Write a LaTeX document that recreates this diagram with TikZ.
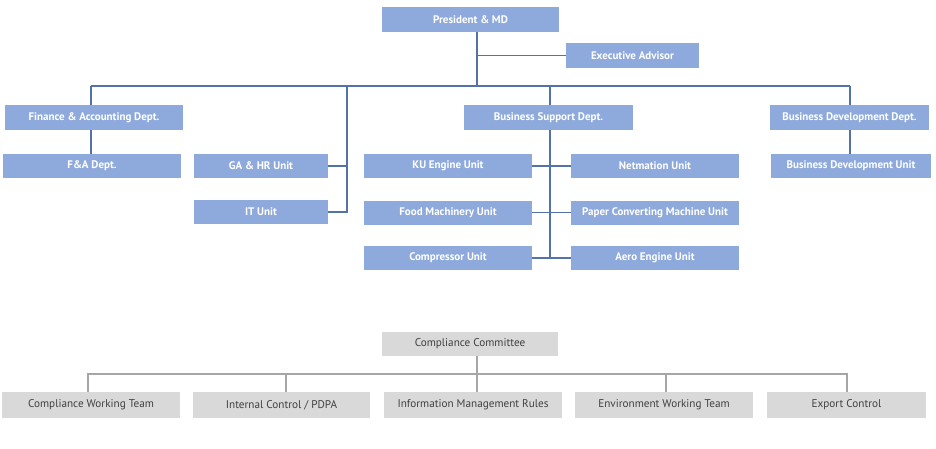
\documentclass[tikz,border=0pt]{standalone}
\usepackage{fontspec}
\setmainfont{PT Sans}
\definecolor{boxblue}{HTML}{8EA9DB}
\definecolor{lineblue}{HTML}{5272A8}
\definecolor{boxgray}{HTML}{D9D9D9}
\definecolor{linegray}{HTML}{A6A6A6}
\definecolor{textgray}{HTML}{404040}

\begin{document}
\begin{tikzpicture}[x=1pt, y=-1pt,
    unit/.style={rectangle, fill=boxblue, text=white, font=\fontsize{11}{13}\selectfont\bfseries, minimum height=25pt, inner sep=0pt},
    team/.style={rectangle, fill=boxgray, text=textgray, font=\fontsize{11.2}{13}\selectfont, minimum height=25pt, inner sep=0pt},
    link/.style={draw=lineblue, line width=1.4pt},
    glink/.style={draw=linegray, line width=1.2pt}]
    \useasboundingbox (0,0) rectangle (936,448);

    \node[unit, minimum width=177pt] (pres) at (470.5, 19.5) {President \& MD};
    \node[unit, minimum width=133pt] (exec) at (632.5, 55.5) {Executive Advisor};

    \node[unit, minimum width=178pt] (fin) at (94, 117.5) {Finance \& Accounting Dept.};
    \node[unit, minimum width=169pt] (bsd) at (548.5, 117.5) {Business Support Dept.};
    \node[unit, minimum width=159pt] (bdd) at (849.5, 117.5) {Business Development Dept.};

    \node[unit, minimum width=178pt, minimum height=24pt] (fa) at (92, 166) {F\&A Dept.};
    \node[unit, minimum width=134pt, minimum height=24pt] (gahr) at (261, 166) {GA \& HR Unit};
    \node[unit, minimum width=134pt, minimum height=24pt] (it) at (261, 212) {IT Unit};
    \node[unit, minimum width=168pt, minimum height=24pt] (ku) at (448, 166) {KU Engine Unit};
    \node[unit, minimum width=168pt, minimum height=24pt] (net) at (655, 166) {Netmation Unit};
    \node[unit, minimum width=168pt, minimum height=24pt] (food) at (448, 212.5) {Food Machinery Unit};
    \node[unit, minimum width=168pt, minimum height=24pt] (paper) at (655, 212.5) {Paper Converting Machine Unit};
    \node[unit, minimum width=168pt, minimum height=24pt] (comp) at (448, 258) {Compressor Unit};
    \node[unit, minimum width=168pt, minimum height=24pt] (aero) at (655, 258) {Aero Engine Unit};
    \node[unit, minimum width=160pt, minimum height=24pt] (bdu) at (851, 166) {Business Development Unit};

    \coordinate (top) at (477, 86);
    \coordinate (finX) at (91, 86);
    \coordinate (gaX) at (347, 86);
    \coordinate (bsX) at (550, 86);
    \coordinate (bdX) at (850, 86);

    \draw[link] (pres.south -| top) -- (top);
    \draw[link] (exec.west) -- (exec.west -| top);
    \draw[link] (finX) -- (bdX);
    \draw[link] (finX) -- (finX |- fin.north);
    \draw[link] (finX |- fin.south) -- (finX |- fa.north);
    \draw[link] (gaX) |- (it.east);
    \draw[link] (gahr.east) -- (gahr.east -| gaX);
    \draw[link] (bsX) -- (bsX |- bsd.north);
    \draw[link] (bsX |- bsd.south) |- (comp.east);
    \draw[link] (aero.west) -- (aero.west -| bsX);
    \draw[link] (ku.east) -- (net.west);
    \draw[link] (food.east) -- (paper.west);
    \draw[link] (bdX) -- (bdX |- bdd.north);
    \draw[link] (bdX |- bdd.south) -- (bdX |- bdu.north);

    % compliance
    \node[team, minimum width=176pt, minimum height=24pt] (cc) at (470, 344) {Compliance Committee};
    \node[team, minimum width=178pt, minimum height=26pt] (cwt) at (91, 405) {Compliance Working Team};
    \node[team, minimum width=177pt, minimum height=26pt] (icp) at (281.5, 405) {Internal Control / PDPA};
    \node[team, minimum width=178pt, minimum height=26pt] (imr) at (473, 405) {Information Management Rules};
    \node[team, minimum width=178pt, minimum height=26pt] (ewt) at (664, 405) {Environment Working Team};
    \node[team, minimum width=159pt, minimum height=26pt] (exp) at (846.5, 405) {Export Control};

    \coordinate (cbus) at (477, 374);

    \draw[glink] (cc.south -| cbus) -- (cbus |- imr.north);
    \draw[glink] ([xshift=-3]cwt.north) |- (cbus) -| ([xshift=0.5]exp.north);
    \draw[glink] ([xshift=4.5]icp.north) -- ([xshift=4.5]icp.north |- cbus);
    \draw[glink] ([xshift=2]ewt.north) -- ([xshift=2]ewt.north |- cbus);
\end{tikzpicture}
\end{document}
